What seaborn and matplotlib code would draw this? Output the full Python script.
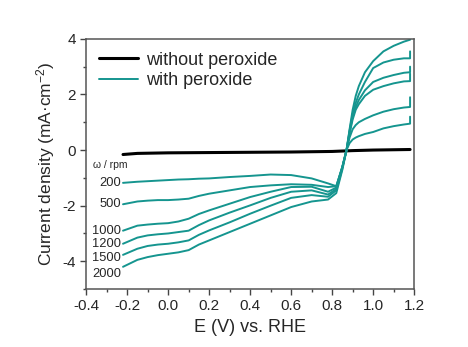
import numpy as np
import pandas as pd
import seaborn as sns
import matplotlib.pyplot as plt
from matplotlib.lines import Line2D
from matplotlib.ticker import MultipleLocator

sns.set_style('ticks')
plt.rcParams['font.family'] = ['Liberation Sans', 'DejaVu Sans']
plt.rcParams['mathtext.fontset'] = 'custom'
plt.rcParams['mathtext.rm'] = 'Liberation Sans'
plt.rcParams['mathtext.it'] = 'Liberation Sans'

# potential grid (V vs RHE), last point repeated for the vertical tail
potential = [-0.22, -0.15, -0.1, -0.05, 0.0, 0.05, 0.1, 0.15, 0.2, 0.3, 0.4, 0.5, 0.6,
             0.7, 0.78, 0.82, 0.85, 0.87, 0.885, 0.9, 0.915, 0.93, 0.96, 1.0, 1.05, 1.1,
             1.15, 1.18, 1.18]

rpm = ['200', '500', '1000', '1200', '1500', '2000']
j_200 = [-1.18, -1.14, -1.12, -1.1, -1.08, -1.06, -1.05, -1.03, -1.02, -0.97, -0.93, -0.88, -0.9,
         -1.02, -1.2, -1.3, -0.6, 0.0, 0.25, 0.38, 0.45, 0.5, 0.58, 0.65, 0.78, 0.86, 0.92, 0.95, 1.2]
j_500 = [-1.95, -1.85, -1.82, -1.8, -1.8, -1.78, -1.75, -1.65, -1.57, -1.45, -1.33, -1.27, -1.23,
         -1.25, -1.33, -1.3, -0.6, 0.0, 0.45, 0.75, 0.9, 1.0, 1.12, 1.25, 1.38, 1.47, 1.53, 1.55, 1.9]
j_1000 = [-2.9, -2.72, -2.68, -2.65, -2.63, -2.57, -2.47, -2.3, -2.17, -1.93, -1.69, -1.5, -1.33,
          -1.32, -1.5, -1.35, -0.6, 0.0, 0.6, 1.1, 1.45, 1.65, 1.95, 2.17, 2.3, 2.4, 2.47, 2.48, 2.75]
j_1200 = [-3.37, -3.15, -3.07, -3.03, -3.0, -2.95, -2.9, -2.7, -2.53, -2.25, -1.99, -1.72, -1.5,
          -1.45, -1.6, -1.4, -0.6, 0.0, 0.65, 1.2, 1.55, 1.8, 2.15, 2.45, 2.6, 2.7, 2.78, 2.8, 3.0]
j_1500 = [-3.77, -3.55, -3.45, -3.4, -3.37, -3.32, -3.25, -3.05, -2.89, -2.6, -2.29, -2.0, -1.72,
          -1.62, -1.68, -1.45, -0.65, 0.0, 0.7, 1.3, 1.7, 2.0, 2.45, 2.95, 3.15, 3.25, 3.3, 3.3, 3.55]
j_2000 = [-4.2, -3.95, -3.85, -3.78, -3.73, -3.68, -3.6, -3.4, -3.25, -2.95, -2.65, -2.35, -2.05,
          -1.85, -1.78, -1.55, -0.7, 0.0, 0.75, 1.45, 1.95, 2.3, 2.8, 3.2, 3.55, 3.75, 3.9, 3.97, 4.0]

# blank (no peroxide)
blank_x = [-0.22, -0.15, 0.0, 0.2, 0.4, 0.6, 0.8, 0.9, 1.0, 1.18]
blank_y = [-0.16, -0.12, -0.1, -0.09, -0.08, -0.07, -0.05, -0.02, 0.0, 0.02]

teal = '#15958f'

curves = [j_200, j_500, j_1000, j_1200, j_1500, j_2000]
df = pd.concat([pd.DataFrame({'E': potential, 'j': c, 'rpm': r})
                for r, c in zip(rpm, curves)])
blank = pd.DataFrame({'E': blank_x, 'j': blank_y})

fig = plt.figure(figsize=(4.68, 3.47), dpi=100)
ax = fig.add_axes([0.184, 0.167, 0.701, 0.721])

sns.lineplot(data=blank, x='E', y='j', color='black', lw=2.2, ax=ax, legend=False)
sns.lineplot(data=df, x='E', y='j', hue='rpm', palette=[teal] * len(rpm), sort=False,
             estimator=None, units='rpm', lw=1.4, ax=ax, legend=False)

# rpm labels at the start of each curve
offs = [0, 0, 0, 0, -0.1, -0.25]
for r, c, o in zip(rpm, curves, offs):
    ax.text(-0.23, c[0] + o, r, ha='right', va='center', fontsize=9.3)
ax.text(-0.2, -0.52, 'ω / rpm', ha='right', va='center', fontsize=7.5)

ax.set_xlim(-0.4, 1.2)
ax.set_ylim(-5, 4)
ax.xaxis.set_major_locator(MultipleLocator(0.2))
ax.xaxis.set_minor_locator(MultipleLocator(0.1))
ax.yaxis.set_major_locator(MultipleLocator(2))
ax.yaxis.set_minor_locator(MultipleLocator(1))
ax.tick_params(which='major', direction='out', length=4, width=1, labelsize=11, color='#444444')
ax.tick_params(which='minor', direction='out', length=2.5, width=1, color='#444444')
ax.yaxis.set_major_formatter(plt.FuncFormatter(lambda v, p: f'{v:.0f}'))
ax.xaxis.set_major_formatter(plt.FuncFormatter(lambda v, p: f'{v:.1f}'))
for s in ax.spines.values():
    s.set_color('#555555')
    s.set_linewidth(1.1)

ax.set_xlabel('E (V) vs. RHE', fontsize=13)
ax.set_ylabel('Current density (mA·cm$^{-2}$)', fontsize=12.5)

handles = [Line2D([], [], color='black', lw=2.2), Line2D([], [], color=teal, lw=1.4)]
ax.legend(handles, ['without peroxide', 'with peroxide'], loc='upper left', frameon=False,
          fontsize=13, handlelength=2.2, handletextpad=0.4, borderaxespad=0.3, labelspacing=0.2)

fig.savefig('out.png', dpi=100)
